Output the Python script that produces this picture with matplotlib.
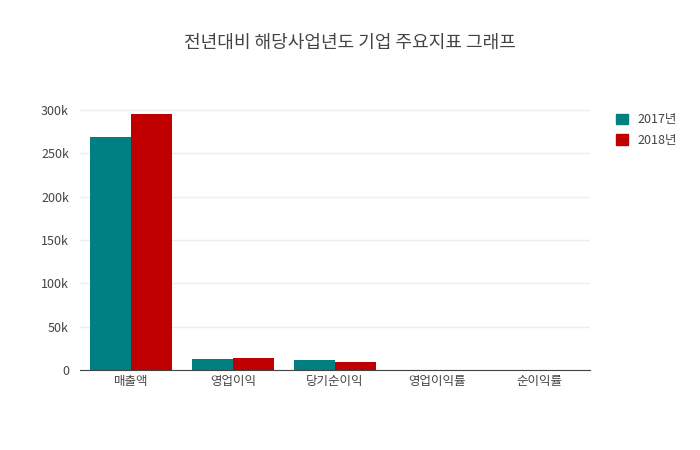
import matplotlib
matplotlib.use("Agg")
import matplotlib.pyplot as plt
import numpy as np
from matplotlib.patches import Patch

plt.rcParams['font.family'] = ['Noto Sans CJK KR', 'DejaVu Sans']

categories = ['매출액', '영업이익', '당기순이익', '영업이익률', '순이익률']
series_names = ['2017년', '2018년']
v2017 = [269000, 13000, 11200, 4.8, 4.2]
v2018 = [295000, 13300, 8700, 4.5, 2.9]
colors = ['#008080', '#c00000']

fig = plt.figure(figsize=(7, 4.5), dpi=100)
ax = fig.add_axes([80/700, 80/450, 510/700, 270/450])
x = np.arange(len(categories))
w = 0.4
ax.bar(x - w/2, v2017, w, color=colors[0])
ax.bar(x + w/2, v2018, w, color=colors[1])
ax.set_xlim(-0.5, len(categories) - 0.5)
ax.set_ylim(0, 311500)
ticks = [0, 50000, 100000, 150000, 200000, 250000, 300000]
ax.set_yticks(ticks)
ax.set_yticklabels(['0', '50k', '100k', '150k', '200k', '250k', '300k'])
ax.set_xticks(x)
ax.set_xticklabels(categories)
ax.tick_params(axis='both', length=0, labelsize=9, colors='#444444')
ax.tick_params(axis='y', pad=8)
ax.grid(axis='y', color='#eeeeee', linewidth=1)
ax.set_axisbelow(True)
for s in ['top', 'right', 'left']:
    ax.spines[s].set_visible(False)
ax.spines['bottom'].set_color('#444444')
fig.text(350/700, 1 - 43/450, '전년대비 해당사업년도 기업 주요지표 그래프', ha='center', va='center',
         fontsize=13, color='#444444')
handles = [Patch(color=c) for c in colors]
fig.legend(handles, series_names, loc='upper left', bbox_to_anchor=(605/700, 1 - 102/450),
           frameon=False, fontsize=9, handlelength=0.9, handleheight=0.9, labelcolor='#444444',
           labelspacing=0.6)
fig.savefig('out.png', dpi=100)
